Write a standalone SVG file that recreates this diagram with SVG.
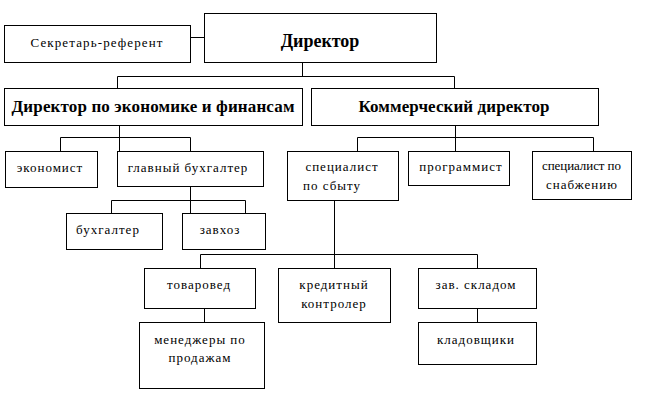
<svg xmlns="http://www.w3.org/2000/svg" width="658" height="400" viewBox="0 0 658 400">
<style>
rect{fill:#fff;stroke:#000;stroke-width:1}
.c line,.c polyline{stroke:#000;stroke-width:1;fill:none}
text{font-family:"Liberation Serif","Times New Roman",serif;fill:#000;text-anchor:middle}
.t{font-size:13px;letter-spacing:1px}
.b{font-size:18px;font-weight:bold}
.b2{font-size:17px;font-weight:bold}
</style>
<rect width="658" height="400" style="stroke:none"/>
<g class="c">
<line x1="190.5" y1="37.5" x2="204.5" y2="37.5"/>
<polyline points="302.5,62.5 302.5,76.5"/>
<polyline points="117.5,88.5 117.5,76.5 454.5,76.5 454.5,88.5"/>
<polyline points="119.5,125.5 119.5,151.5"/>
<polyline points="60.5,151.5 60.5,137.5 190.5,137.5 190.5,151.5"/>
<polyline points="190.5,186.5 190.5,213.5"/>
<polyline points="111.5,213.5 111.5,200.5 245.5,200.5 245.5,213.5"/>
<polyline points="455.5,125.5 455.5,151.5"/>
<polyline points="357.5,151.5 357.5,137.5 593.5,137.5 593.5,151.5"/>
<polyline points="334.5,200.5 334.5,268.5"/>
<polyline points="200.5,268.5 200.5,254.5 477.5,254.5 477.5,268.5"/>
<line x1="204.5" y1="308.5" x2="204.5" y2="322.5"/>
<line x1="477.5" y1="308.5" x2="477.5" y2="322.5"/>
</g>
<g id="secretary"><rect x="4.5" y="25.5" width="186" height="37"/><text class="t" x="97" y="47" textLength="133">Секретарь-референт</text></g>
<g id="director"><rect x="204.5" y="13.5" width="232" height="49"/><text class="b" x="320" y="47">Директор</text></g>
<g id="dir-econ"><rect x="4.5" y="88.5" width="298" height="37"/><text class="b2" x="153" y="112" textLength="283">Директор по экономике и финансам</text></g>
<g id="dir-comm"><rect x="311.5" y="88.5" width="287" height="37"/><text class="b2" x="454" y="112" textLength="191">Коммерческий директор</text></g>
<g id="economist"><rect x="5.5" y="151.5" width="92" height="36"/><text class="t" x="50" y="172">экономист</text></g>
<g id="chief-acc"><rect x="117.5" y="151.5" width="146" height="35"/><text class="t" x="188" y="172">главный бухгалтер</text></g>
<g id="accountant"><rect x="66.5" y="213.5" width="96" height="36"/><text class="t" x="108" y="234">бухгалтер</text></g>
<g id="zavhoz"><rect x="182.5" y="213.5" width="83" height="36"/><text class="t" x="220" y="234">завхоз</text></g>
<g id="sales-spec"><rect x="287.5" y="151.5" width="111" height="49"/><text class="t" x="342" y="171">специалист</text><text class="t" x="332" y="190">по сбыту</text></g>
<g id="programmer"><rect x="408.5" y="151.5" width="101" height="34"/><text class="t" x="461" y="171">программист</text></g>
<g id="supply-spec"><rect x="532.5" y="151.5" width="99" height="48"/><text class="t" x="582" y="170" textLength="80">специалист по</text><text class="t" x="582" y="189">снабжению</text></g>
<g id="merch"><rect x="144.5" y="268.5" width="111" height="40"/><text class="t" x="199" y="289">товаровед</text></g>
<g id="credit"><rect x="278.5" y="268.5" width="112" height="54"/><text class="t" x="334" y="289">кредитный</text><text class="t" x="334" y="308">контролер</text></g>
<g id="warehouse"><rect x="418.5" y="268.5" width="118" height="40"/><text class="t" x="476" y="289">зав. складом</text></g>
<g id="managers"><rect x="139.5" y="322.5" width="125" height="66"/><text class="t" x="200" y="344">менеджеры по</text><text class="t" x="200" y="362">продажам</text></g>
<g id="storekeepers"><rect x="418.5" y="322.5" width="118" height="42"/><text class="t" x="476" y="344">кладовщики</text></g>
</svg>
